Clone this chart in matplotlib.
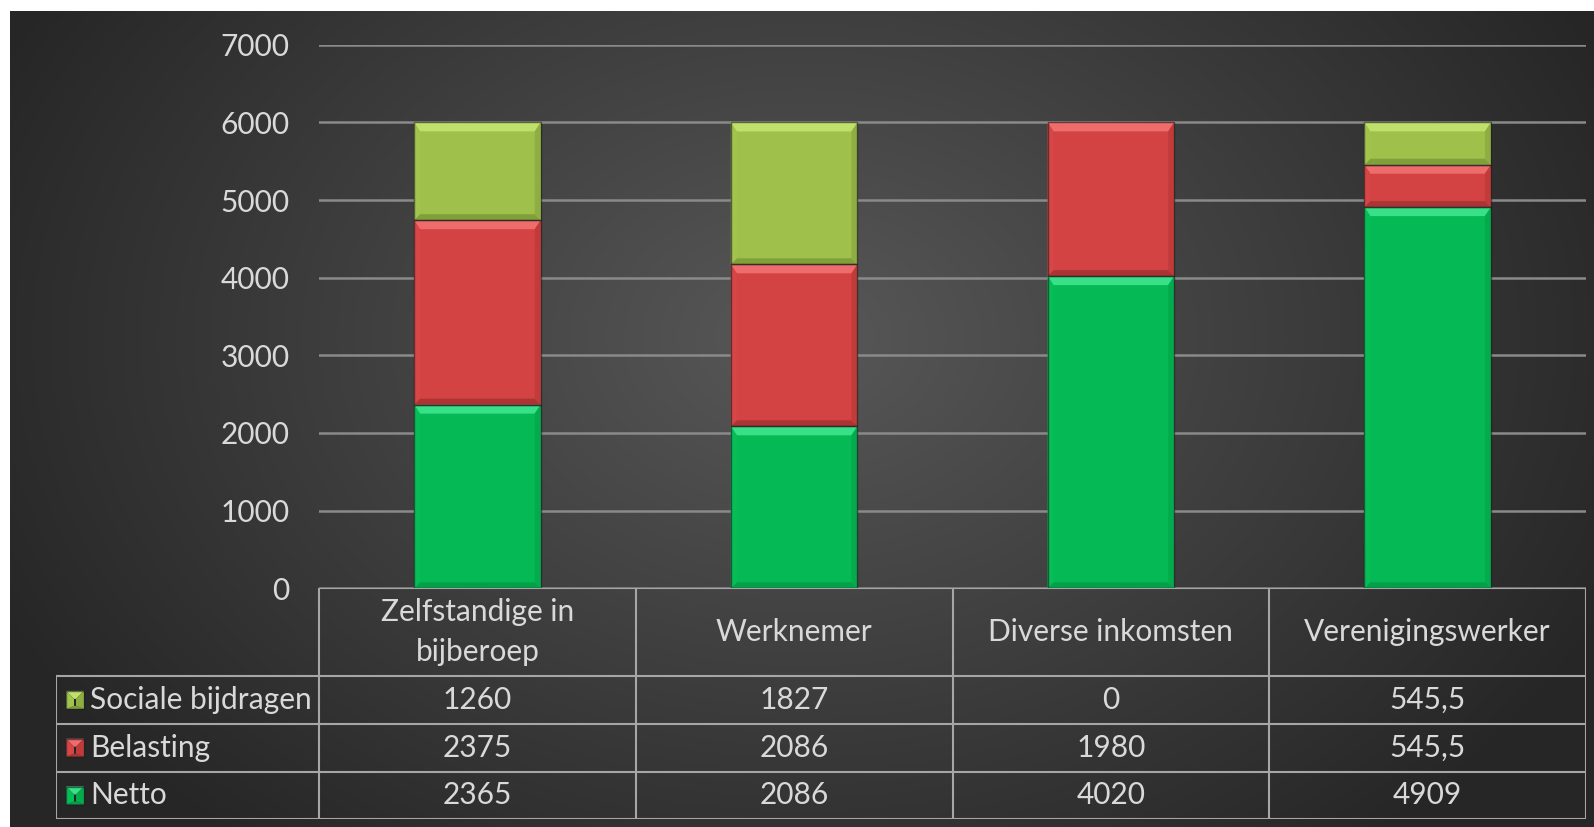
import matplotlib.pyplot as plt
import numpy as np
from matplotlib.patches import Polygon, Rectangle

plt.rcParams['font.family'] = ['Lato', 'DejaVu Sans']

categories = ['Zelfstandige in\nbijberoep', 'Werknemer', 'Diverse inkomsten', 'Verenigingswerker']
series = ['Sociale bijdragen', 'Belasting', 'Netto']
netto = [2365, 2086, 4020, 4909]
belasting = [2375, 2086, 1980, 545.5]
sociale = [1260, 1827, 0, 545.5]

W, H = 1594, 827
fig = plt.figure(figsize=(W / 100, H / 100), dpi=100, facecolor='white')

# dark radial background
bg = fig.add_axes([10 / W, 0, (W - 10) / W, (H - 11) / H])
yy, xx = np.mgrid[0:400, 0:800]
d = np.sqrt(((xx - 400) / 450) ** 2 + ((yy - 160) / 320) ** 2)
d = np.clip(d, 0, 1)
g = 0.345 * (1 - d) + 0.15 * d
bg.imshow(np.dstack([g, g, g]), aspect='auto', extent=[0, 1, 0, 1], origin='upper')
bg.axis('off')

txt = '#d9d9d9'
fs = 21.5

x_left, x_right, y_top, y_zero = 319, 1586, 44.7, 588.3
ax = fig.add_axes([x_left / W, 1 - y_zero / H, (x_right - x_left) / W, (y_zero - y_top) / H])
ax.patch.set_alpha(0)
ax.set_xlim(-0.5, 3.5)
ax.set_ylim(0, 7000)
ax.set_yticks(range(0, 7001, 1000))
ax.set_xticks([])
ax.tick_params(axis='y', length=0, pad=21, labelsize=fs, labelcolor=txt)
for sp in ax.spines.values():
    sp.set_visible(False)
ax.grid(axis='y', color='#8a8a8a', lw=1.8)
ax.set_axisbelow(True)


def bevel(a, x0, x1, y0, y1, cols, sx, sy, t=9, s=6, b=6, z=3):
    face, top, left, right, bot = cols
    dt, ds, db = t / sy, s / sx, b / sy
    h = y1 - y0
    if dt + db > h:
        k = h / (dt + db)
        dt, db = dt * k, db * k
    i0, i1, j0, j1 = x0 + ds, x1 - ds, y0 + db, y1 - dt
    polys = [
        ([(x0, y1), (x1, y1), (i1, j1), (i0, j1)], top),
        ([(x0, y0), (x1, y0), (i1, j0), (i0, j0)], bot),
        ([(x0, y0), (i0, j0), (i0, j1), (x0, y1)], left),
        ([(x1, y0), (i1, j0), (i1, j1), (x1, y1)], right),
    ]
    for pts, c in polys:
        a.add_patch(Polygon(pts, closed=True, facecolor=c, edgecolor='none', zorder=z))
    a.add_patch(Rectangle((x0, y0), x1 - x0, y1 - y0, fill=False,
                          edgecolor='#1e1e1e', lw=1, alpha=0.6, zorder=z + 1))


palette = {
    'Netto': ('#05b955', '#38e088', '#07bd58', '#04ab4d', '#04a049'),
    'Belasting': ('#d44343', '#ee6c6c', '#d64646', '#c23b3b', '#ad3434'),
    'Sociale bijdragen': ('#9fc14c', '#c0e06c', '#a2c44f', '#8fae42', '#80a03a'),
}

sx = (x_right - x_left) / 4
sy = (y_zero - y_top) / 7000
bw = 0.4
xs = np.arange(len(categories))
values = {'Netto': netto, 'Belasting': belasting, 'Sociale bijdragen': sociale}
bottom = np.zeros(len(categories))
for name in ['Netto', 'Belasting', 'Sociale bijdragen']:
    vals = np.array(values[name], dtype=float)
    ax.bar(xs, vals, bw, bottom=bottom, color=palette[name][0], zorder=2)
    for i, v in enumerate(vals):
        if v > 0:
            bevel(ax, xs[i] - bw / 2, xs[i] + bw / 2, bottom[i], bottom[i] + v,
                  palette[name], sx, sy)
    bottom += vals

# data table
t_left, t_bottom = 55.9, 819.4
tab = fig.add_axes([t_left / W, 1 - t_bottom / H, (x_right - t_left) / W, (t_bottom - y_zero) / H])
tab.patch.set_alpha(0)
tab.axis('off')
row_px = (t_bottom - 676) / 3
hdr = (676 - y_zero) / row_px
xl = -0.5 - (x_left - t_left) / sx
tab.set_xlim(xl, 3.5)
tab.set_ylim(0, 3 + hdr)
lc, lw = '#a6a6a6', 1.5
for y in [0, 1, 2, 3]:
    tab.plot([xl, 3.5], [y, y], color=lc, lw=lw, solid_capstyle='butt')
tab.plot([-0.5, 3.5], [3 + hdr, 3 + hdr], color=lc, lw=lw)
for x in [-0.5, 0.5, 1.5, 2.5, 3.5]:
    tab.plot([x, x], [0, 3 + hdr], color=lc, lw=lw)
tab.plot([xl, xl], [0, 3], color=lc, lw=lw)

for i, c in enumerate(categories):
    tab.text(i, 3 + hdr / 2, c, ha='center', va='center', color=txt, fontsize=fs, linespacing=1.55)


def fmt(v):
    return str(int(v)) if float(v).is_integer() else str(v).replace('.', ',')


tsx = sx
tsy = row_px
icon = 18
for r, name in enumerate(series):
    yc = 2.5 - r
    x0 = xl + (66 - t_left) / tsx
    bevel(tab, x0, x0 + icon / tsx, yc - icon / 2 / tsy, yc + icon / 2 / tsy,
          palette[name], tsx, tsy, t=8, s=8, b=3)
    tab.text(xl + (90 - t_left) / tsx, yc, name, ha='left', va='center', color=txt, fontsize=fs)
    for i, v in enumerate(values[name]):
        tab.text(i, yc, fmt(v), ha='center', va='center', color=txt, fontsize=fs)

fig.savefig('out.png', dpi=100, facecolor='white')
